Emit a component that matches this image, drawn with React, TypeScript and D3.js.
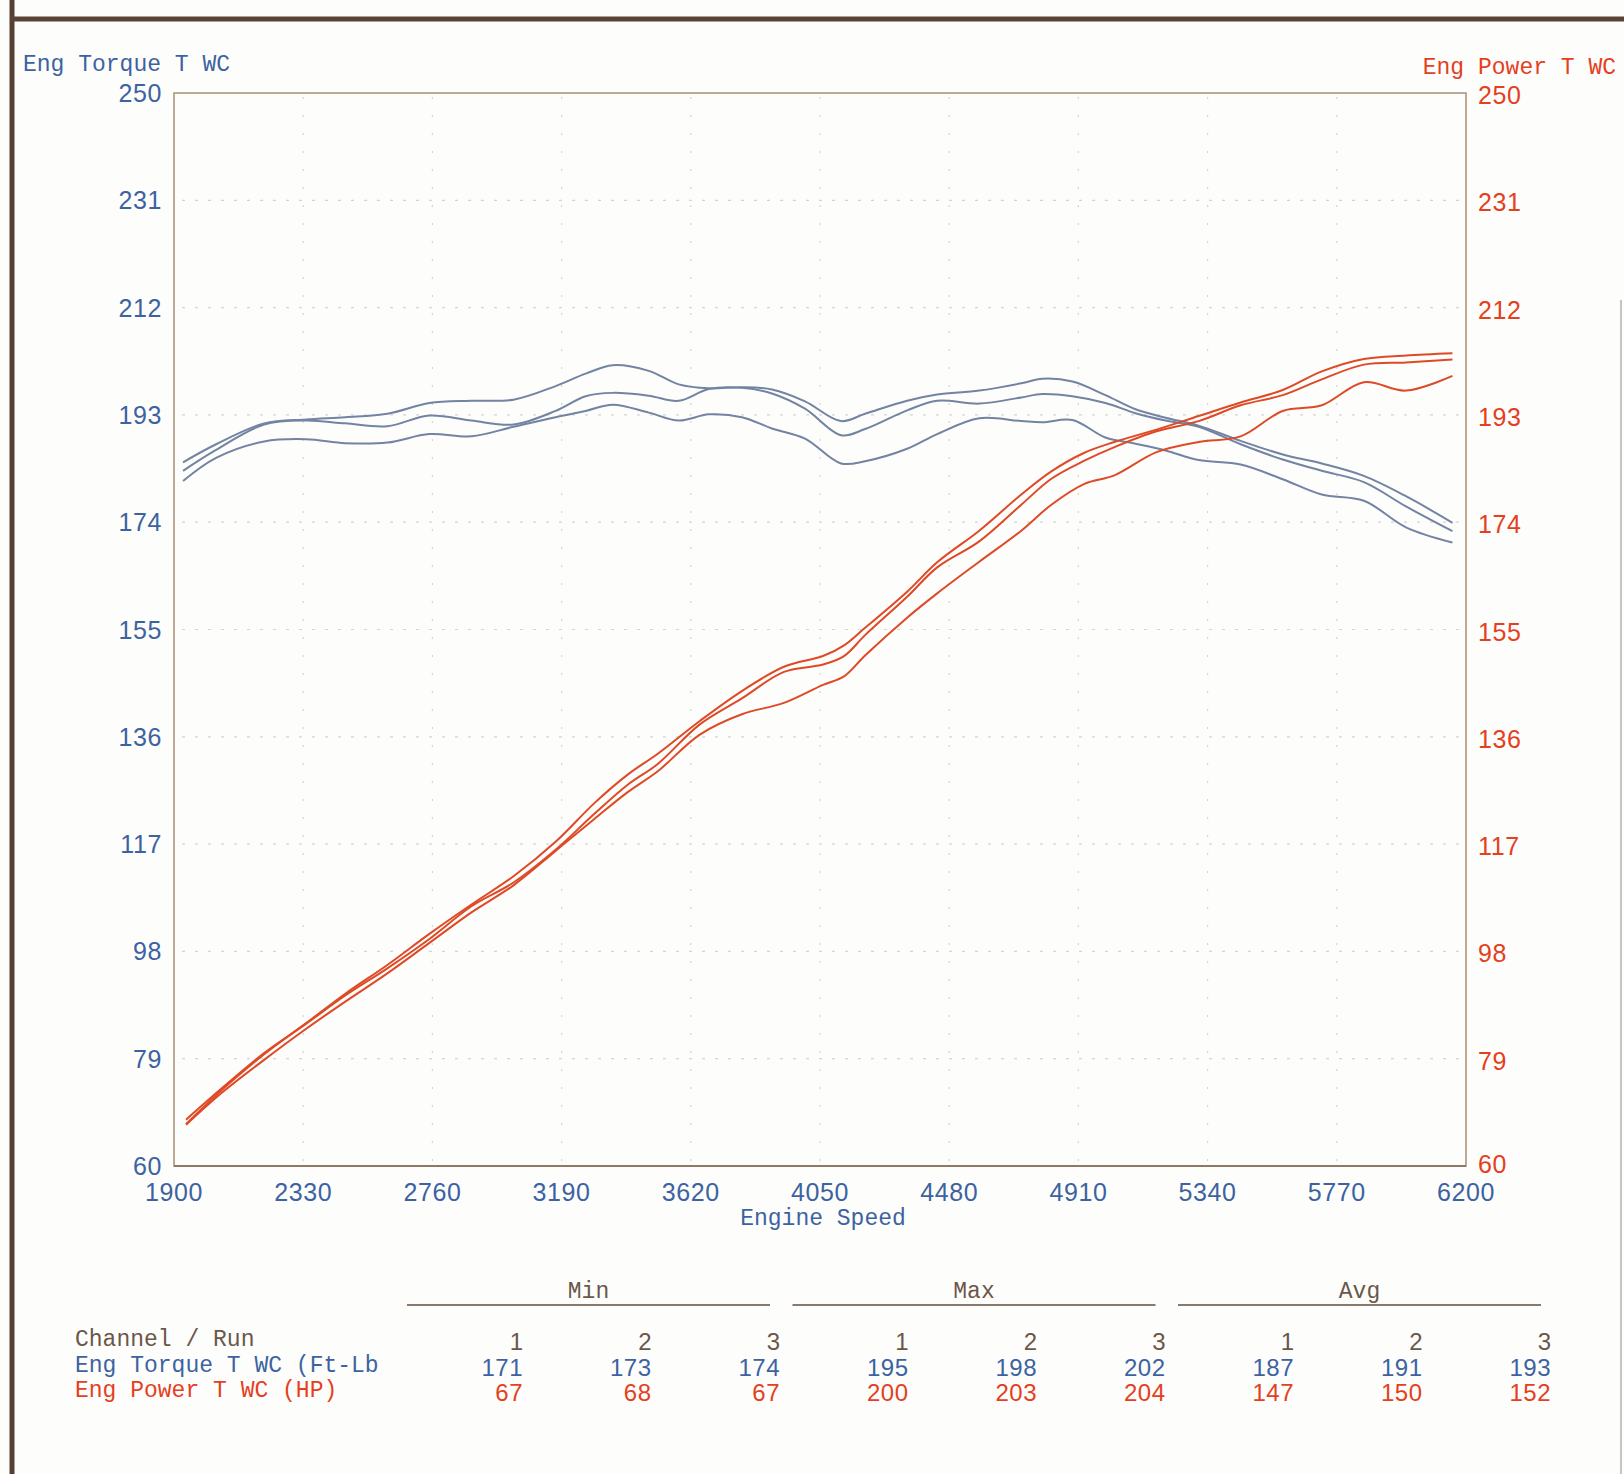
import React from 'react';
import * as d3 from 'd3';

// axis ticks
const rpmTicks = d3.range(1900, 6201, 430);
const valueTicks = d3.range(60, 251, 19);

// torque runs (Ft-Lb) vs engine speed
const torqueRpm = [1930, 2040, 2200, 2340, 2470, 2610, 2750, 2890, 3030, 3170, 3270, 3360, 3480, 3580, 3680, 3790, 3890, 4000, 4120, 4200, 4340, 4440, 4580, 4720, 4790, 4890, 5000, 5100, 5200, 5310, 5450, 5590, 5720, 5860, 6000, 6155];
const torqueRun1 = [181.3, 185.4, 188.3, 188.7, 188.0, 188.1, 189.6, 189.2, 190.9, 192.6, 193.7, 194.8, 193.4, 192.0, 193.1, 192.6, 190.6, 188.8, 184.4, 184.8, 187.0, 189.6, 192.4, 191.9, 191.7, 192.1, 189.0, 187.9, 186.7, 185.0, 184.2, 181.6, 178.9, 177.8, 173.1, 170.4];
const torqueRun2 = [183.1, 186.8, 191.3, 192.0, 191.5, 191.0, 192.9, 192.0, 191.3, 193.7, 196.3, 196.9, 196.4, 195.5, 197.6, 197.8, 196.8, 194.1, 189.4, 190.5, 193.8, 195.5, 195.0, 196.1, 196.7, 196.3, 195.1, 193.3, 192.0, 190.9, 187.8, 185.1, 183.1, 181.1, 176.8, 172.4];
const torqueRun3 = [184.6, 187.8, 191.5, 192.2, 192.6, 193.2, 195.1, 195.5, 195.7, 198.1, 200.3, 201.8, 200.8, 198.4, 197.7, 197.9, 197.5, 195.4, 191.9, 193.2, 195.5, 196.6, 197.3, 198.6, 199.4, 198.9, 196.5, 194.0, 192.5, 191.1, 188.4, 186.0, 184.4, 182.2, 178.6, 173.9];

// power runs (HP) vs engine speed
const powerRpm = [1940, 2060, 2200, 2340, 2470, 2610, 2750, 2890, 3030, 3170, 3300, 3410, 3510, 3650, 3790, 3930, 4060, 4130, 4200, 4340, 4440, 4580, 4720, 4820, 4930, 5030, 5170, 5310, 5450, 5590, 5720, 5860, 6000, 6155];
const powerRun1 = [67.3, 73.0, 78.8, 84.3, 89.1, 94.1, 99.5, 104.9, 109.7, 115.8, 121.5, 126.2, 129.9, 136.4, 140.0, 142.0, 145.2, 146.7, 150.4, 157.1, 161.4, 167.0, 172.5, 177.1, 180.8, 182.3, 186.4, 188.2, 189.2, 193.7, 194.7, 198.8, 197.3, 199.9];
const powerRun2 = [68.2, 73.8, 80.0, 85.2, 90.2, 95.0, 100.2, 106.0, 110.2, 116.0, 122.4, 127.5, 131.2, 138.2, 142.8, 147.5, 148.8, 150.3, 154.0, 160.8, 166.0, 170.6, 177.1, 181.7, 184.9, 187.3, 190.1, 191.9, 194.7, 196.5, 199.3, 201.9, 202.3, 202.8];
const powerRun3 = [67.4, 73.5, 79.8, 85.3, 90.5, 95.6, 101.1, 106.3, 111.3, 117.4, 124.3, 129.3, 133.0, 138.8, 144.1, 148.4, 150.3, 152.2, 155.3, 161.7, 166.9, 172.5, 178.9, 183.0, 186.3, 188.2, 190.4, 192.8, 195.2, 197.4, 200.7, 202.9, 203.5, 203.9];

// summary table
const statGroups = ['Min', 'Max', 'Avg'];
const runLabels = ['1', '2', '3'];
const torqueMin = [171, 173, 174];
const torqueMax = [195, 198, 202];
const torqueAvg = [187, 191, 193];
const powerMin = [67, 68, 67];
const powerMax = [200, 203, 204];
const powerAvg = [147, 150, 152];

const W = 1624;
const H = 1474;
const plot = { left: 174, right: 1466, top: 93, bottom: 1166 };

const BLUE = '#3c63a0';
const RED = '#e4401d';
const BROWN = '#6b5749';
const TORQUE_LINE = '#7383a2';
const POWER_LINE = '#de4a26';
const FRAME = '#a88e72';
const GRID = '#d4d4d4';

const MONO = "'Courier New', 'Liberation Mono', monospace";
const NARROW = "'Liberation Sans Narrow', 'Arial Narrow', 'Liberation Sans', sans-serif";

const App: React.FC = () => {
  const x = d3.scaleLinear().domain([1900, 6200]).range([plot.left, plot.right]);
  const y = d3.scaleLinear().domain([60, 250]).range([plot.bottom, plot.top]);

  const line = (xs: number[]) =>
    d3
      .line<number>()
      .x((_, i) => x(xs[i]))
      .y((d) => y(d))
      .curve(d3.curveCatmullRom.alpha(0.5));

  const torquePath = line(torqueRpm);
  const powerPath = line(powerRpm);

  // table columns: 3 groups x 3 runs, right aligned
  const col = d3.scalePoint<number>().domain(d3.range(9)).range([523, 1551]);
  const rows = [
    { label: 'Eng Torque T WC (Ft-Lb', color: BLUE, y: 1366, values: [...torqueMin, ...torqueMax, ...torqueAvg] },
    { label: 'Eng Power T WC (HP)', color: RED, y: 1391, values: [...powerMin, ...powerMax, ...powerAvg] },
  ];

  return (
    <svg
      width={W}
      height={H}
      viewBox={`0 0 ${W} ${H}`}
      style={{ position: 'fixed', left: 0, top: 0, background: '#fdfdfc' }}
    >
      <rect width={W} height={H} fill="#fdfdfc" />

      {/* paper frame */}
      <line x1={12} y1={0} x2={12} y2={H} stroke="#573f33" strokeWidth={5} />
      <line x1={10} y1={19} x2={W} y2={19} stroke="#5a4236" strokeWidth={5} />
      <line x1={1621} y1={300} x2={1621} y2={H} stroke="#c4c4c4" strokeWidth={2} />

      {/* grid */}
      {valueTicks.slice(1, -1).map((v) => (
        <line key={`h${v}`} x1={plot.left + 8} x2={plot.right - 4} y1={y(v)} y2={y(v)}
          stroke={GRID} strokeWidth={1.2} strokeDasharray="3 10" />
      ))}
      {rpmTicks.slice(1, -1).map((r) => (
        <line key={`v${r}`} x1={x(r)} x2={x(r)} y1={plot.top + 4} y2={plot.bottom - 4}
          stroke={GRID} strokeWidth={1.2} strokeDasharray="2 16" />
      ))}

      {/* plot frame */}
      <rect x={plot.left} y={plot.top} width={plot.right - plot.left} height={plot.bottom - plot.top}
        fill="none" stroke={FRAME} strokeWidth={1.5} />
      <line x1={plot.left} x2={plot.right} y1={plot.bottom} y2={plot.bottom} stroke="#8c7a66" strokeWidth={2} />

      {/* curves */}
      {[torqueRun1, torqueRun2, torqueRun3].map((d, i) => (
        <path key={`t${i}`} d={torquePath(d) || ''} fill="none" stroke={TORQUE_LINE} strokeWidth={2} />
      ))}
      {[powerRun1, powerRun2, powerRun3].map((d, i) => (
        <path key={`p${i}`} d={powerPath(d) || ''} fill="none" stroke={POWER_LINE} strokeWidth={2} />
      ))}

      {/* axis titles */}
      <text x={23} y={65} dominantBaseline="central" fontFamily={MONO} fontSize={23} fill={BLUE}>
        Eng Torque T WC
      </text>
      <text x={1616} y={68} textAnchor="end" dominantBaseline="central" fontFamily={MONO} fontSize={23} fill={RED}>
        Eng Power T WC
      </text>

      {/* left ticks */}
      {valueTicks.map((v) => (
        <text key={`l${v}`} x={plot.left - 12} y={y(v)} textAnchor="end" dominantBaseline="central"
          fontFamily={NARROW} fontSize={25} letterSpacing={0.6} fill={BLUE}>
          {v}
        </text>
      ))}
      {/* right ticks */}
      {valueTicks.map((v) => (
        <text key={`r${v}`} x={plot.right + 12} y={y(v) + (v === 60 ? -2 : 2)} dominantBaseline="central"
          fontFamily={NARROW} fontSize={25} letterSpacing={0.6} fill={RED}>
          {v}
        </text>
      ))}
      {/* bottom ticks */}
      {rpmTicks.map((r) => (
        <text key={`b${r}`} x={x(r)} y={plot.bottom + 26} textAnchor="middle" dominantBaseline="central"
          fontFamily={NARROW} fontSize={25} letterSpacing={0.6} fill={BLUE}>
          {r}
        </text>
      ))}
      <text x={823} y={plot.bottom + 53} textAnchor="middle" dominantBaseline="central"
        fontFamily={MONO} fontSize={23} fill={BLUE}>
        Engine Speed
      </text>

      {/* summary table */}
      {statGroups.map((g, gi) => {
        const x0 = (col(gi * 3) as number) - 116;
        const x1 = (col(gi * 3 + 2) as number) - 10;
        return (
          <g key={g}>
            <text x={(x0 + x1) / 2} y={1292} textAnchor="middle" dominantBaseline="central"
              fontFamily={MONO} fontSize={23} fill={BROWN}>
              {g}
            </text>
            <line x1={x0} x2={x1} y1={1305} y2={1305} stroke="#8a7a6e" strokeWidth={2} />
          </g>
        );
      })}
      <text x={75} y={1340} dominantBaseline="central" fontFamily={MONO} fontSize={23} fill={BROWN}>
        Channel / Run
      </text>
      {d3.range(9).map((i) => (
        <text key={`run${i}`} x={col(i)} y={1341} textAnchor="end" dominantBaseline="central"
          fontFamily={NARROW} fontSize={24} fill={BROWN}>
          {runLabels[i % 3]}
        </text>
      ))}
      {rows.map((row) => (
        <g key={row.label}>
          <text x={75} y={row.y} dominantBaseline="central" fontFamily={MONO} fontSize={23} fill={row.color}>
            {row.label}
          </text>
          {row.values.map((v, i) => (
            <text key={i} x={col(i)} y={row.y + 1} textAnchor="end" dominantBaseline="central"
              fontFamily={NARROW} fontSize={24} letterSpacing={0.5} fill={row.color}>
              {v}
            </text>
          ))}
        </g>
      ))}
    </svg>
  );
};

export default App;
